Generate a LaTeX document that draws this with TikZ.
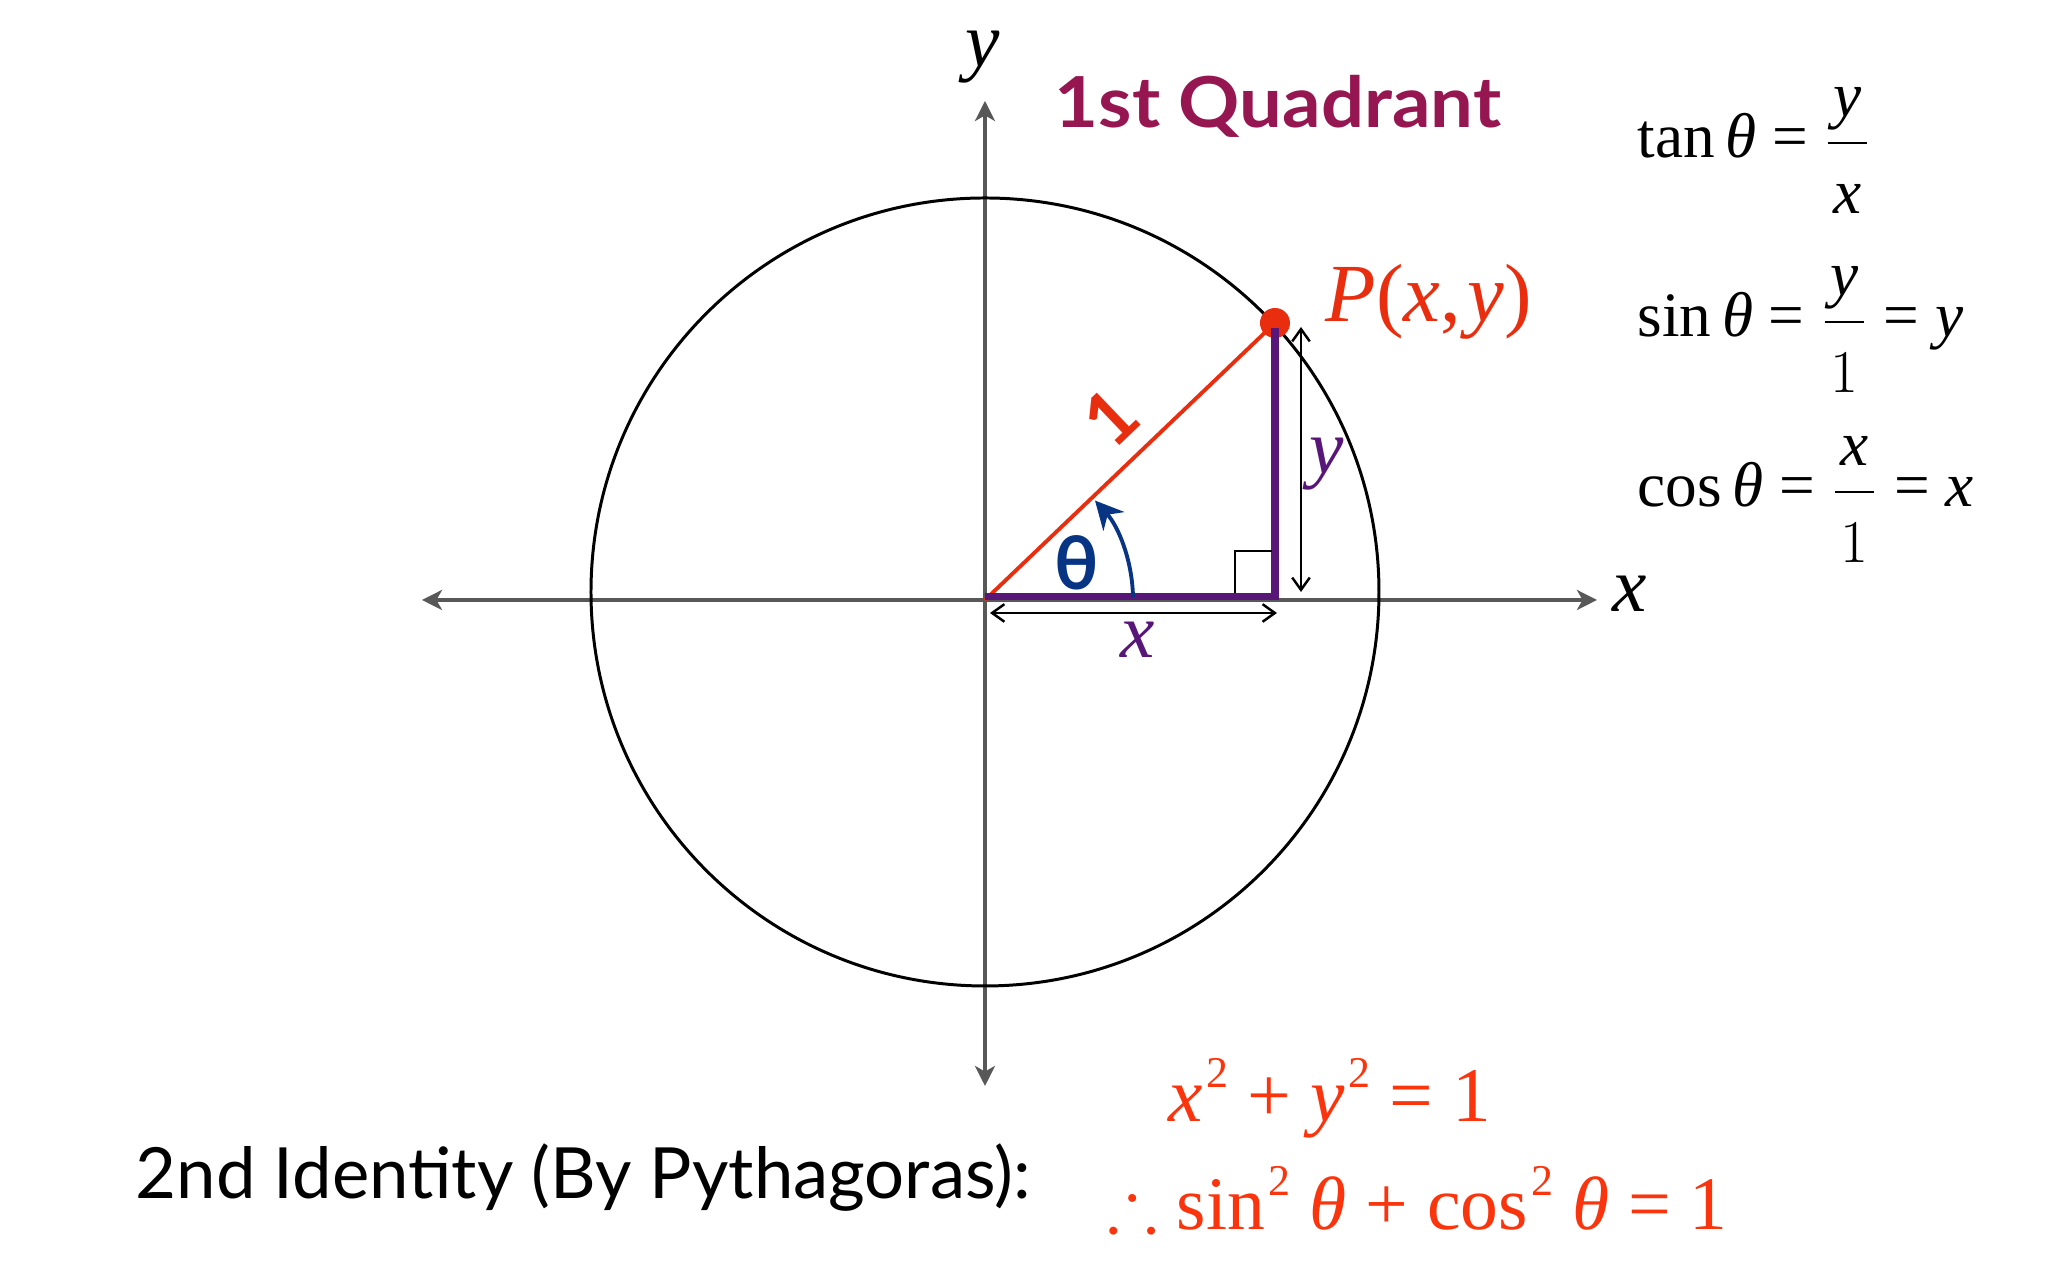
\documentclass[tikz,border=0pt]{standalone}
\usepackage{amsmath}
\usepackage{amssymb}
\usepackage{fontspec}
\setmainfont{Liberation Serif}
\newfontfamily\gillfont{Lato}
\usetikzlibrary{arrows.meta}
\definecolor{axisgray}{RGB}{88,88,88}
\definecolor{quadred}{RGB}{150,22,82}
\definecolor{hypred}{RGB}{232,46,14}
\definecolor{legpurple}{RGB}{88,22,120}
\definecolor{anglenavy}{RGB}{8,52,132}
\definecolor{identred}{RGB}{250,52,12}
% raised square and spread fraction
\newcommand{\supsq}{\raisebox{0.45em}{\fontsize{12.5}{12.5}\selectfont\kern0.08em 2}}
\newcommand{\wfrac}[2]{\dfrac{\makebox[0.62em]{#1}}{\rule{0pt}{0.97em}#2}}

\begin{document}
\begin{tikzpicture}[
    axis/.style={draw=axisgray, line width=1.15pt, {Stealth[length=5.7pt,width=5.7pt,inset=1.6pt]}-{Stealth[length=5.7pt,width=5.7pt,inset=1.6pt]}},
    dimline/.style={draw=black, line width=0.7pt, {Straight Barb[length=3.5pt,width=5pt]}-{Straight Barb[length=3.5pt,width=5pt]}},
    leg/.style={draw=legpurple, line width=2pt},
    lbl/.style={inner sep=0pt},
    serif/.style={lbl, font=\fontsize{#1}{#1}\selectfont},
    sans/.style={lbl, font=\gillfont\fontsize{#1}{#1}\selectfont},
]
    \useasboundingbox (-9.85,-6.80) rectangle (10.63,6.00);

    % axes
    \coordinate (O) at (0,0);
    \coordinate (xl) at (-5.63,0);
    \coordinate (xr) at (6.12,0);
    \coordinate (yb) at (0,-4.86);
    \coordinate (yt) at (0,4.99);
    \draw[axis] (xl) -- (xr);
    \draw[axis] (yb) -- (yt);
    \node[serif=22, anchor=base west] (xlab) at (6.27,-0.12) {\textit{x}};
    \node[serif=22, anchor=base] (ylab) at (-0.02,5.33) {\textit{y}};

    % unit circle
    \draw[line width=0.85pt] (0,0.08) circle (3.94);

    % triangle
    \node[circle, fill=hypred, minimum size=0.30cm, inner sep=0pt] (P) at (2.90,2.77) {};
    \coordinate (F) at (2.90,0.03);
    \draw[hypred, line width=1.1pt] (O) -- (P.center);
    \draw[leg] (0,0.03) -- (F) -- (2.90,2.72);
    \draw[line width=0.6pt] (2.50,0.07) -- (2.50,0.49) -- (2.87,0.49);
    \node[serif=23.5, anchor=base west, text=hypred] (Plab) at (3.40,2.78) {\textit{P}(\textit{x},\kern0.08em\textit{y})};
    \node[sans=21, rotate=43.7, text=hypred] (one) at (1.26,1.83) {\bfseries 1};

    % angle
    \draw[anglenavy, line width=1.1pt, -{Stealth[length=8pt,width=8pt]}] (1.48,0.03) arc[start angle=1, end angle=42, radius=1.48];
    \node[sans=21, text=anglenavy] (theta) at (0.92,0.37) {\bfseries θ};

    % side lengths
    \coordinate (xa) at (0.05,-0.13);
    \coordinate (xb) at (2.92,-0.13);
    \coordinate (ya) at (3.16,0.08);
    \coordinate (yb2) at (3.16,2.73);
    \draw[dimline] (xa) -- (xb);
    \draw[dimline] (ya) -- (yb2);
    \node[serif=22, anchor=base, text=legpurple] (xdim) at (1.53,-0.58) {\textit{x}};
    \node[serif=22, text=legpurple] (ydim) at (3.42,1.36) {\textit{y}};

    % title
    \node[sans=20, anchor=base, xscale=1.08, text=quadred] (title) at (2.93,4.72) {\bfseries 1st Quadrant};

    % ratios
    \node[serif=18, anchor=base west] (tanf) at (6.52,4.42) {tan\,\textit{θ} = $\wfrac{\textit{y}}{\textit{x}}$};
    \node[serif=18, anchor=base west] (sinf) at (6.52,2.63) {sin\,\textit{θ} = $\wfrac{\textit{y}}{1}$ = \textit{y}};
    \node[serif=18, anchor=base west] (cosf) at (6.52,0.93) {cos\,\textit{θ} = $\wfrac{\textit{x}}{1}$ = \textit{x}};

    % identity
    \node[sans=20.1, anchor=base west] (ident) at (-8.50,-5.99) {2nd Identity (By Pythagoras):};
    \node[serif=22, anchor=base west, text=identred] (pyth) at (1.83,-5.22) {\textit{x}\supsq{} + \textit{y}\supsq{} = 1};
    \node[serif=21.5, anchor=base west, text=identred] (trig) at (1.22,-6.30) {$\therefore$\ sin\supsq{} \textit{θ} + cos\supsq{} \textit{θ} = 1};
\end{tikzpicture}
\end{document}
